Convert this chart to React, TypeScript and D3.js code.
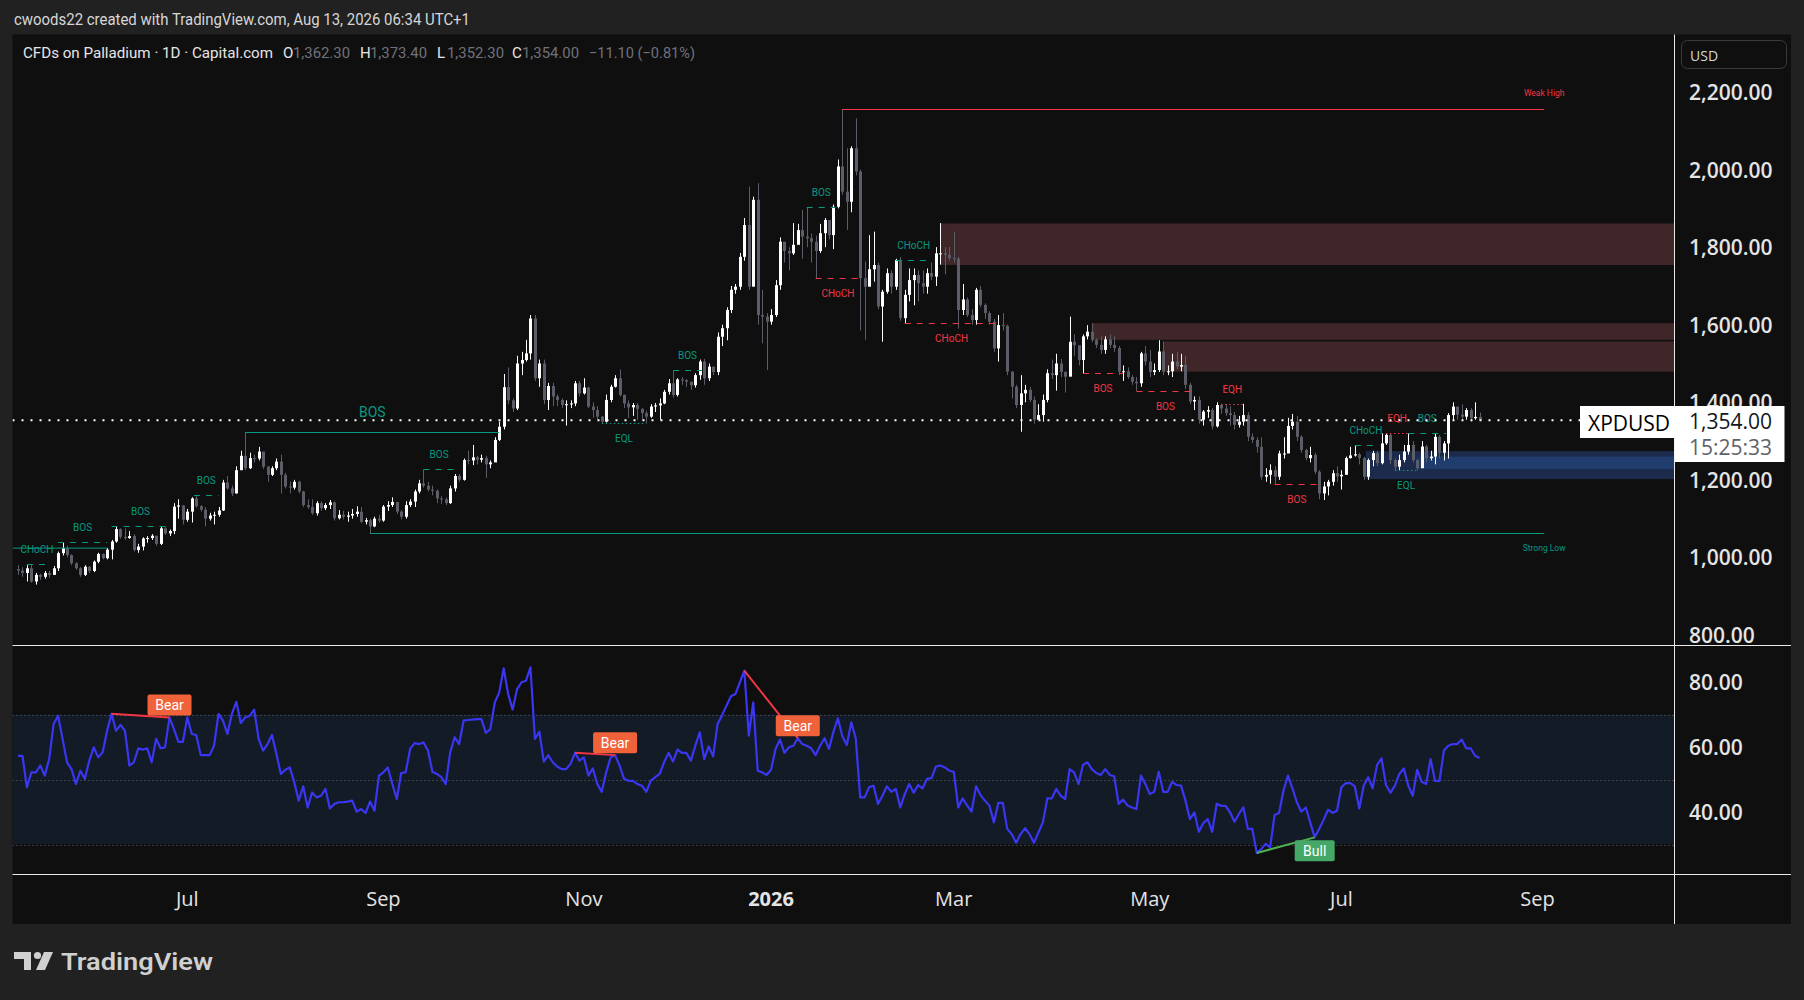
import { useEffect } from 'react';
import * as d3 from 'd3';

const W = 1804;
const H = 1000;

// daily bars of XPDUSD: [high, low, close]; open = previous close
const FIRST_OPEN = 970;
const bars: [number, number, number][] = [
  [980, 955, 966], [975, 950, 960], [980, 938, 972], [980, 935, 938], [960, 930, 955],
  [958, 942, 950], [965, 945, 960], [965, 948, 955], [978, 955, 972], [1015, 965, 1011],
  [1038, 1005, 1024], [1030, 1000, 1006], [1008, 980, 985], [988, 968, 972], [975, 950, 955],
  [980, 952, 976], [978, 960, 965], [992, 962, 989], [1012, 985, 1009], [1010, 995, 998],
  [1024, 995, 1020], [1045, 995, 1041], [1080, 1038, 1073], [1075, 1048, 1053], [1075, 1045, 1050],
  [1068, 1048, 1055], [1060, 1015, 1019], [1035, 1012, 1028], [1052, 1018, 1049], [1055, 1038, 1050],
  [1060, 1045, 1056], [1055, 1030, 1035], [1080, 1032, 1075], [1078, 1058, 1062], [1072, 1055, 1068],
  [1140, 1060, 1131], [1150, 1100, 1134], [1135, 1085, 1097], [1125, 1092, 1118], [1155, 1090, 1152],
  [1160, 1128, 1132], [1135, 1118, 1123], [1130, 1080, 1100], [1115, 1095, 1108], [1118, 1085, 1110],
  [1130, 1105, 1121], [1200, 1120, 1193], [1210, 1175, 1178], [1185, 1158, 1165], [1235, 1165, 1225],
  [1275, 1225, 1262], [1324, 1225, 1230], [1270, 1228, 1256], [1265, 1245, 1255], [1285, 1250, 1273],
  [1270, 1228, 1234], [1235, 1195, 1213], [1235, 1210, 1230], [1255, 1225, 1247], [1265, 1165, 1213],
  [1218, 1178, 1183], [1195, 1165, 1180], [1200, 1175, 1195], [1198, 1165, 1170], [1172, 1130, 1135],
  [1150, 1125, 1130], [1150, 1110, 1114], [1145, 1108, 1140], [1145, 1120, 1127], [1140, 1122, 1135],
  [1148, 1125, 1142], [1145, 1095, 1101], [1122, 1098, 1110], [1120, 1098, 1105], [1118, 1092, 1108],
  [1125, 1100, 1112], [1132, 1105, 1118], [1130, 1088, 1092], [1102, 1085, 1096], [1100, 1062, 1080],
  [1105, 1078, 1100], [1110, 1090, 1095], [1135, 1092, 1131], [1145, 1120, 1135], [1155, 1130, 1143],
  [1140, 1112, 1118], [1122, 1098, 1105], [1145, 1100, 1135], [1150, 1130, 1144], [1175, 1130, 1170],
  [1200, 1165, 1191], [1227, 1180, 1185], [1195, 1170, 1175], [1185, 1160, 1172], [1175, 1140, 1152],
  [1158, 1138, 1150], [1155, 1135, 1140], [1185, 1138, 1178], [1215, 1170, 1210], [1215, 1195, 1200],
  [1255, 1198, 1251], [1275, 1240, 1250], [1290, 1238, 1258], [1262, 1240, 1252], [1265, 1245, 1256],
  [1262, 1205, 1240], [1250, 1230, 1245], [1310, 1250, 1303], [1350, 1300, 1337], [1473, 1330, 1439],
  [1490, 1395, 1405], [1410, 1375, 1384], [1520, 1380, 1500], [1530, 1470, 1509], [1561, 1505, 1526],
  [1625, 1510, 1616], [1625, 1455, 1462], [1510, 1440, 1500], [1510, 1395, 1406], [1450, 1380, 1442],
  [1450, 1390, 1415], [1420, 1390, 1406], [1410, 1385, 1393], [1405, 1340, 1395], [1405, 1385, 1397],
  [1455, 1390, 1449], [1455, 1415, 1423], [1462, 1420, 1438], [1440, 1385, 1389], [1400, 1360, 1380],
  [1390, 1355, 1363], [1365, 1346, 1350], [1420, 1348, 1406], [1445, 1400, 1440], [1470, 1438, 1462],
  [1485, 1415, 1419], [1420, 1385, 1397], [1405, 1360, 1387], [1398, 1365, 1393], [1398, 1355, 1383],
  [1385, 1355, 1372], [1378, 1346, 1363], [1395, 1360, 1389], [1398, 1375, 1392], [1410, 1355, 1397],
  [1432, 1395, 1427], [1460, 1420, 1449], [1483, 1412, 1419], [1462, 1415, 1459], [1465, 1445, 1457],
  [1460, 1440, 1453], [1452, 1432, 1444], [1475, 1438, 1470], [1510, 1458, 1505], [1512, 1445, 1462],
  [1500, 1455, 1492], [1490, 1470, 1478], [1580, 1470, 1569], [1600, 1545, 1591], [1645, 1560, 1638],
  [1700, 1630, 1690], [1705, 1680, 1698], [1785, 1690, 1775], [1875, 1765, 1857], [1956, 1690, 1698],
  [1930, 1740, 1922], [1965, 1600, 1625], [1690, 1552, 1621], [1630, 1483, 1608], [1640, 1600, 1625],
  [1715, 1620, 1702], [1825, 1690, 1814], [1810, 1760, 1790], [1800, 1740, 1784], [1862, 1780, 1806],
  [1860, 1820, 1844], [1896, 1770, 1827], [1903, 1800, 1823], [1835, 1760, 1814], [1830, 1720, 1790],
  [1860, 1785, 1836], [1875, 1800, 1870], [1870, 1820, 1831], [1910, 1795, 1904], [2026, 1900, 2008],
  [2156, 1935, 1943], [2055, 1844, 1917], [2060, 1890, 2055], [2132, 1985, 1995], [2000, 1585, 1720],
  [1763, 1561, 1698], [1831, 1700, 1743], [1840, 1711, 1754], [1760, 1640, 1647], [1690, 1556, 1685],
  [1745, 1680, 1733], [1740, 1680, 1698], [1770, 1690, 1767], [1775, 1610, 1617], [1690, 1604, 1677],
  [1745, 1660, 1715], [1745, 1650, 1728], [1740, 1660, 1707], [1740, 1680, 1698], [1745, 1680, 1733],
  [1760, 1715, 1724], [1800, 1700, 1784], [1862, 1755, 1784], [1800, 1730, 1780], [1800, 1765, 1772],
  [1840, 1760, 1770], [1775, 1590, 1638], [1705, 1625, 1665], [1670, 1620, 1625], [1640, 1600, 1612],
  [1695, 1600, 1690], [1700, 1645, 1651], [1655, 1615, 1630], [1635, 1600, 1608], [1615, 1530, 1539],
  [1625, 1505, 1599], [1630, 1585, 1597], [1600, 1470, 1479], [1480, 1410, 1440], [1445, 1385, 1393],
  [1470, 1324, 1423], [1445, 1400, 1432], [1440, 1400, 1406], [1415, 1345, 1355], [1395, 1355, 1367],
  [1420, 1350, 1406], [1485, 1400, 1475], [1510, 1460, 1470], [1525, 1430, 1500], [1512, 1465, 1478],
  [1480, 1425, 1466], [1621, 1480, 1556], [1575, 1520, 1547], [1545, 1495, 1509], [1575, 1475, 1570],
  [1599, 1562, 1582], [1604, 1555, 1561], [1565, 1540, 1548], [1570, 1525, 1535], [1570, 1525, 1562],
  [1575, 1540, 1548], [1570, 1530, 1540], [1545, 1470, 1479], [1495, 1455, 1480], [1490, 1460, 1465],
  [1470, 1445, 1453], [1465, 1429, 1449], [1530, 1440, 1526], [1545, 1495, 1505], [1535, 1465, 1478],
  [1500, 1470, 1483], [1560, 1478, 1531], [1556, 1470, 1479], [1495, 1470, 1480], [1525, 1465, 1505],
  [1530, 1485, 1492], [1525, 1480, 1496], [1520, 1435, 1445], [1450, 1395, 1402], [1415, 1380, 1406],
  [1415, 1345, 1355], [1380, 1340, 1376], [1390, 1360, 1380], [1385, 1330, 1338], [1400, 1335, 1393],
  [1396, 1370, 1384], [1395, 1365, 1372], [1390, 1340, 1367], [1375, 1330, 1342], [1365, 1335, 1350],
  [1396, 1340, 1367], [1375, 1300, 1311], [1320, 1295, 1303], [1310, 1270, 1285], [1310, 1200, 1208],
  [1230, 1195, 1213], [1240, 1190, 1225], [1235, 1189, 1208], [1275, 1200, 1268], [1310, 1255, 1268],
  [1360, 1305, 1339], [1370, 1330, 1350], [1365, 1300, 1311], [1315, 1270, 1277], [1280, 1250, 1256],
  [1285, 1245, 1264], [1270, 1215, 1221], [1225, 1150, 1165], [1195, 1148, 1183], [1200, 1160, 1195],
  [1225, 1185, 1217], [1235, 1195, 1209], [1225, 1175, 1213], [1260, 1215, 1256], [1285, 1255, 1263],
  [1289, 1260, 1266], [1270, 1240, 1256], [1260, 1200, 1208], [1255, 1200, 1251], [1275, 1235, 1269],
  [1275, 1235, 1243], [1320, 1240, 1294], [1320, 1290, 1316], [1320, 1240, 1251], [1255, 1225, 1234],
  [1265, 1225, 1251], [1290, 1245, 1273], [1320, 1265, 1290], [1300, 1245, 1251], [1255, 1225, 1230],
  [1300, 1235, 1286], [1290, 1245, 1256], [1275, 1250, 1260], [1320, 1240, 1311], [1315, 1255, 1270],
  [1300, 1250, 1294], [1372, 1255, 1367], [1400, 1352, 1389], [1380, 1355, 1368], [1395, 1355, 1363],
  [1385, 1355, 1380], [1385, 1350, 1359], [1400, 1355, 1362.3], [1373.4, 1352.3, 1354],
];

const rsi: number[] = [
  57.3, 57.3, 47.6, 52.2, 52.2, 54.3, 51.2, 56.3, 67.1, 69.6,
  62.5, 55.3, 53.2, 48.6, 52.7, 50.2, 55.8, 59.9, 56.8, 58.4,
  65.0, 70.2, 65.0, 66.8, 65.0, 54.3, 55.3, 59.6, 59.2, 59.6,
  55.3, 62.5, 59.6, 59.9, 69.1, 65.5, 61.6, 61.6, 69.1, 64.0,
  63.7, 57.5, 57.5, 57.5, 60.4, 70.2, 68.1, 64.0, 70.2, 73.9,
  67.4, 69.1, 69.6, 71.5, 62.5, 58.9, 60.9, 63.7, 57.8, 51.7,
  53.0, 53.7, 49.1, 43.5, 47.9, 41.4, 46.0, 44.5, 45.0, 47.1,
  41.1, 42.5, 43.0, 43.0, 43.2, 43.5, 40.1, 40.9, 39.7, 43.2,
  40.4, 51.2, 52.2, 53.7, 48.6, 44.0, 52.0, 52.2, 59.4, 61.2,
  60.9, 61.4, 58.9, 52.4, 51.7, 50.7, 48.6, 58.4, 63.0, 60.9,
  68.1, 68.3, 68.4, 68.6, 68.6, 64.3, 65.5, 73.7, 76.8, 84.2,
  76.3, 71.5, 77.8, 79.9, 80.4, 84.5, 62.5, 64.7, 55.5, 57.5,
  55.3, 54.0, 53.2, 53.2, 54.8, 58.2, 55.8, 56.8, 51.2, 53.4,
  48.6, 46.2, 52.2, 56.8, 57.5, 54.3, 50.2, 49.6, 49.6, 48.6,
  48.1, 46.2, 49.6, 50.7, 51.7, 55.3, 58.2, 55.5, 59.2, 58.2,
  58.2, 55.8, 60.4, 64.5, 56.3, 60.2, 57.1, 67.1, 69.8, 72.7,
  75.6, 76.3, 79.9, 83.5, 63.5, 73.7, 52.7, 52.2, 51.4, 53.0,
  59.4, 62.3, 58.2, 59.9, 60.4, 62.7, 60.9, 60.4, 59.6, 57.5,
  60.4, 62.7, 59.4, 64.7, 68.8, 63.3, 60.6, 67.6, 62.7, 44.5,
  44.5, 47.6, 48.1, 42.5, 45.0, 47.9, 46.2, 47.1, 41.4, 45.5,
  48.6, 45.9, 48.3, 47.3, 50.2, 50.4, 54.0, 54.3, 53.7, 52.7,
  52.4, 41.4, 44.2, 42.0, 40.1, 47.9, 45.2, 43.5, 42.0, 36.8,
  42.8, 42.8, 34.8, 33.2, 30.5, 33.2, 35.0, 33.2, 30.5, 33.7,
  36.8, 44.2, 44.2, 47.1, 45.0, 44.0, 53.2, 52.2, 48.6, 54.5,
  55.3, 53.2, 52.0, 51.4, 53.2, 51.4, 51.0, 42.5, 43.8, 42.0,
  41.4, 40.9, 51.2, 48.6, 45.5, 46.2, 52.4, 46.2, 46.2, 49.3,
  48.3, 48.1, 43.5, 37.8, 39.9, 33.9, 36.6, 37.8, 33.9, 42.5,
  41.9, 41.9, 39.9, 37.0, 39.4, 41.4, 34.8, 34.8, 27.4, 28.6,
  30.2, 29.1, 39.1, 39.7, 46.6, 51.2, 47.3, 43.0, 40.1, 41.4,
  36.8, 32.2, 34.8, 37.6, 40.7, 39.7, 40.4, 47.6, 48.9, 48.9,
  47.9, 41.1, 48.1, 50.7, 47.3, 54.5, 56.5, 48.3, 45.9, 48.1,
  51.7, 53.4, 48.1, 45.0, 53.0, 49.3, 48.6, 56.3, 49.6, 49.6,
  58.9, 60.4, 60.9, 60.9, 62.3, 59.6, 59.6, 57.3, 56.6,
];

const priceTicks = [800, 1000, 1200, 1400, 1600, 1800, 2000, 2200];
const rsiTicks = [40, 60, 80];
const rsiLevels = [70, 50, 30];
const LAST_DATE = new Date(2026, 7, 13);

// smart-money structure breaks: bar range, level, label
type Brk = { a: number; b: number; p: number; text: string; bull: boolean; style: 'dash' | 'dot' | 'solid'; below?: boolean; big?: boolean };
const breaks: Brk[] = [
  { a: 2, b: 6.5, p: 982, text: 'CHoCH', bull: true, style: 'dash' },
  { a: 9, b: 20, p: 1039, text: 'BOS', bull: true, style: 'dash' },
  { a: 21, b: 34, p: 1082, text: 'BOS', bull: true, style: 'dash' },
  { a: 39.5, b: 45, p: 1160, text: 'BOS', bull: true, style: 'dash' },
  { a: 51, b: 108, p: 1324, text: 'BOS', bull: true, style: 'solid', big: true },
  { a: 91, b: 98, p: 1227, text: 'BOS', bull: true, style: 'dash' },
  { a: 131, b: 141, p: 1346, text: 'EQL', bull: true, style: 'dot', below: true },
  { a: 147, b: 153.5, p: 1483, text: 'BOS', bull: true, style: 'dash' },
  { a: 177, b: 183.5, p: 1903, text: 'BOS', bull: true, style: 'dash' },
  { a: 179, b: 189, p: 1720, text: 'CHoCH', bull: false, style: 'dash', below: true },
  { a: 197, b: 205, p: 1768, text: 'CHoCH', bull: true, style: 'dash' },
  { a: 199, b: 220, p: 1604, text: 'CHoCH', bull: false, style: 'dash', below: true },
  { a: 239, b: 248, p: 1476, text: 'BOS', bull: false, style: 'dash', below: true },
  { a: 251, b: 264, p: 1429, text: 'BOS', bull: false, style: 'dash', below: true },
  { a: 270, b: 275, p: 1396, text: 'EQH', bull: false, style: 'dot' },
  { a: 282, b: 292, p: 1189, text: 'BOS', bull: false, style: 'dash', below: true },
  { a: 300, b: 305, p: 1289, text: 'CHoCH', bull: true, style: 'dash' },
  { a: 307, b: 312, p: 1320, text: 'EQH', bull: false, style: 'dot' },
  { a: 312, b: 320.5, p: 1320, text: 'BOS', bull: true, style: 'dash' },
  { a: 309, b: 314, p: 1225, text: 'EQL', bull: true, style: 'dot', below: true },
];

// order blocks: first bar, top, bottom
const zones = [
  { a: 207, top: 1861, bot: 1754, fill: '#3f2729' },
  { a: 241, top: 1604, bot: 1561, fill: '#3f2729' },
  { a: 257, top: 1557, bot: 1479, fill: '#3f2729' },
  { a: 302.5, top: 1274, bot: 1202, fill: '#1c2b4b' },
  { a: 314.5, top: 1260, bot: 1228, fill: '#213d6e' },
];

// RSI divergences: pivot bars
const divergences = [
  { a: 21, b: 34, bull: false },
  { a: 125, b: 134, bull: false },
  { a: 163, b: 175, bull: false },
  { a: 278, b: 291, bull: true },
];

const GREEN = '#089981';
const RED = '#f23645';
const FONT = 'Roboto, "Noto Sans", sans-serif';
const AXIS_FONT = '"Open Sans", "Noto Sans", sans-serif';

const PANE = { left: 12.5, top: 34.5, right: 1791, bottom: 924 };
const AXIS_X = 1674.5;
const MAIN_BOTTOM = 645.5;
const RSI_BOTTOM = 874.5;
const STEP = 4.456;

function isHoliday(d: Date) {
  return (d.getMonth() === 11 && d.getDate() === 25) || (d.getMonth() === 0 && d.getDate() === 1);
}
function isTradingDay(d: Date) {
  const wd = d.getDay();
  return wd !== 0 && wd !== 6 && !isHoliday(d);
}

function buildDates(count: number, extra: number) {
  const out: Date[] = [];
  let d = new Date(LAST_DATE);
  while (out.length < count) {
    if (isTradingDay(d)) out.unshift(new Date(d));
    d = d3.timeDay.offset(d, -1);
  }
  d = d3.timeDay.offset(LAST_DATE, 1);
  while (out.length < count + extra) {
    if (isTradingDay(d)) out.push(new Date(d));
    d = d3.timeDay.offset(d, 1);
  }
  return out;
}

export default function App() {
  useEffect(() => {
    document.body.style.margin = '0';
    document.body.style.background = '#212121';
  }, []);

  const N = bars.length;
  const x = d3.scaleLinear().domain([0, N - 1]).range([18, 18 + STEP * (N - 1)]);
  const y = d3.scaleLinear().domain([800, 2200]).range([635, 92]);
  const yr = d3.scaleLinear().domain([40, 80]).range([812, 682]);

  const dates = buildDates(N, 60);
  const monthTicks: { i: number; label: string; bold: boolean }[] = [];
  dates.forEach((d, i) => {
    if (i === 0) return;
    const m = d.getMonth();
    if (m !== dates[i - 1].getMonth() && m % 2 === 0) {
      const bold = m === 0;
      monthTicks.push({ i, label: bold ? String(d.getFullYear()) : d3.timeFormat('%b')(d), bold });
    }
  });

  const rsiLine = d3
    .line<number>()
    .x((_, i) => x(i))
    .y((v) => yr(v));

  const closeLast = bars[N - 1][2];
  const lastY = y(closeLast);
  const rightEnd = x(342.5);

  const dashFor = (s: Brk['style']) => (s === 'dash' ? '6 6' : s === 'dot' ? '1.5 2.5' : undefined);

  return (
    <svg width={W} height={H} viewBox={`0 0 ${W} ${H}`} style={{ display: 'block', background: '#212121' }}>
      <defs>
        <clipPath id="mainClip">
          <rect x={PANE.left} y={PANE.top} width={AXIS_X - PANE.left} height={MAIN_BOTTOM - PANE.top} />
        </clipPath>
        <clipPath id="rsiClip">
          <rect x={PANE.left} y={MAIN_BOTTOM} width={AXIS_X - PANE.left} height={RSI_BOTTOM - MAIN_BOTTOM} />
        </clipPath>
      </defs>

      {/* header */}
      <text x={14} y={25} fill="#d6d6d6" fontFamily={FONT} fontSize={16} textLength={456} lengthAdjust="spacingAndGlyphs">
        cwoods22 created with TradingView.com, Aug 13, 2026 06:34 UTC+1
      </text>

      <rect x={PANE.left} y={PANE.top} width={PANE.right - PANE.left} height={PANE.bottom - PANE.top} fill="#0f0f0f" />

      {/* order blocks */}
      <g clipPath="url(#mainClip)">
        {zones.map((z, i) => (
          <rect key={i} x={x(z.a)} y={y(z.top)} width={AXIS_X - x(z.a)} height={y(z.bot) - y(z.top)} fill={z.fill} />
        ))}
      </g>

      {/* candles */}
      <g clipPath="url(#mainClip)">
        {bars.map(([h, l, c], i) => {
          const o = i === 0 ? FIRST_OPEN : bars[i - 1][2];
          const up = c >= o;
          const col = up ? '#ffffff' : '#5b5e68';
          const cx = Math.round(x(i));
          const yt = y(Math.max(o, c));
          const yb = y(Math.min(o, c));
          return (
            <g key={i}>
              <line x1={cx + 0.5} x2={cx + 0.5} y1={y(h)} y2={y(l)} stroke={col} strokeWidth={1} />
              <rect x={cx - 1} y={yt} width={3} height={Math.max(1, yb - yt)} fill={col} />
            </g>
          );
        })}
      </g>

      {/* structure */}
      <g clipPath="url(#mainClip)" fontFamily={FONT}>
        <line x1={PANE.left} x2={x(20)} y1={y(1024)} y2={y(1024)} stroke={GREEN} strokeWidth={1} />
        {breaks.map((b, i) => {
          const col = b.bull ? GREEN : RED;
          const yy = Math.round(y(b.p)) + 0.5;
          const ty = b.big ? yy - 21 : b.below ? yy + 15 : yy - 15;
          return (
            <g key={i}>
              <line x1={x(b.a)} x2={x(b.b)} y1={yy} y2={yy} stroke={col} strokeWidth={1} strokeDasharray={dashFor(b.style)} />
              <text
                x={(x(b.a) + x(b.b)) / 2}
                y={ty}
                fill={col}
                fontSize={b.big ? 14 : 10}
                textAnchor="middle"
                dominantBaseline="central"
              >
                {b.text}
              </text>
            </g>
          );
        })}
        <line x1={x(185)} x2={rightEnd} y1={Math.round(y(2156)) + 0.5} y2={Math.round(y(2156)) + 0.5} stroke={RED} strokeWidth={1} />
        <text x={rightEnd} y={y(2156) - 16} fill={RED} fontSize={8.5} textAnchor="middle" dominantBaseline="central">
          Weak High
        </text>
        <line x1={x(79)} x2={rightEnd} y1={Math.round(y(1062)) + 0.5} y2={Math.round(y(1062)) + 0.5} stroke={GREEN} strokeWidth={1} />
        <text x={rightEnd} y={y(1062) + 15} fill={GREEN} fontSize={8.5} textAnchor="middle" dominantBaseline="central">
          Strong Low
        </text>
        <line x1={PANE.left} x2={1580} y1={lastY} y2={lastY} stroke="#ffffff" strokeWidth={2} strokeDasharray="2 7" />
      </g>

      {/* legend */}
      <g fontFamily={FONT} fontSize={15} dominantBaseline="central">
        <text x={23} y={53} fill="#e6e6e6" textLength={250} lengthAdjust="spacingAndGlyphs">CFDs on Palladium · 1D · Capital.com</text>
        {[
          ['O', '1,362.30', 283],
          ['H', '1,373.40', 360],
          ['L', '1,352.30', 437],
          ['C', '1,354.00', 512],
        ].map(([k, v, px]) => (
          <g key={k as string}>
            <text x={px as number} y={53} fill="#e6e6e6">{k}</text>
            <text x={(px as number) + 10} y={53} fill="#6f727b" textLength={57} lengthAdjust="spacingAndGlyphs">{v}</text>
          </g>
        ))}
        <text x={589} y={53} fill="#6f727b" textLength={106} lengthAdjust="spacingAndGlyphs">−11.10 (−0.81%)</text>
      </g>

      {/* RSI pane */}
      <g clipPath="url(#rsiClip)">
        <rect x={PANE.left} y={yr(70)} width={AXIS_X - PANE.left} height={yr(30) - yr(70)} fill="#121b26" />
        {rsiLevels.map((v) => (
          <line key={v} x1={PANE.left} x2={AXIS_X} y1={Math.round(yr(v)) + 0.5} y2={Math.round(yr(v)) + 0.5} stroke="#8a8d96" strokeOpacity={0.7} strokeWidth={1} strokeDasharray="1 3" />
        ))}
        <path d={rsiLine(rsi) ?? ''} fill="none" stroke="#3a36f2" strokeWidth={2.2} strokeLinejoin="round" />
        {divergences.map((dv, i) => {
          const col = dv.bull ? '#4caf50' : RED;
          const bx = x(dv.b);
          const by = yr(rsi[dv.b]);
          const w = dv.bull ? 40 : 44;
          const ly = dv.bull ? by + 3 : by - 23;
          return (
            <g key={i}>
              <line x1={x(dv.a)} y1={yr(rsi[dv.a])} x2={bx} y2={by} stroke={col} strokeWidth={2} />
              <rect x={bx - w / 2} y={ly} width={w} height={21} rx={2} fill={dv.bull ? '#45a866' : '#f0623a'} />
              <text x={bx} y={ly + 11} fill="#ffffff" fontFamily={FONT} fontSize={14} textAnchor="middle" dominantBaseline="central">
                {dv.bull ? 'Bull' : 'Bear'}
              </text>
            </g>
          );
        })}
      </g>

      {/* separators */}
      <line x1={PANE.left} x2={PANE.right} y1={MAIN_BOTTOM} y2={MAIN_BOTTOM} stroke="#e8e8e8" strokeWidth={1} />
      <line x1={PANE.left} x2={PANE.right} y1={RSI_BOTTOM} y2={RSI_BOTTOM} stroke="#e8e8e8" strokeWidth={1} />
      <line x1={AXIS_X} x2={AXIS_X} y1={PANE.top} y2={PANE.bottom} stroke="#e8e8e8" strokeWidth={1} />

      {/* price axis */}
      <rect x={1681.5} y={40.5} width={105} height={28} rx={6} fill="none" stroke="#3a3a3a" />
      <text x={1690} y={55} fill="#d6d6d6" fontFamily={AXIS_FONT} fontSize={14} dominantBaseline="central">USD</text>
      <g fontFamily={AXIS_FONT} fontSize={21} fontWeight={600} fill="#e4e4e4" dominantBaseline="central">
        {priceTicks.map((p) => (
          <text key={p} x={1689} y={y(p)}>
            {d3.format(',.2f')(p)}
          </text>
        ))}
        {rsiTicks.map((v) => (
          <text key={v} x={1689} y={yr(v)}>
            {d3.format('.2f')(v)}
          </text>
        ))}
      </g>

      {/* last price tags */}
      <rect x={1580} y={406} width={95} height={32} fill="#ffffff" />
      <text x={1588} y={422.5} fill="#000000" fontFamily={AXIS_FONT} fontSize={21} dominantBaseline="central">XPDUSD</text>
      <rect x={AXIS_X} y={406} width={110} height={56} fill="#ffffff" />
      <text x={1689} y={421} fill="#131722" fontFamily={AXIS_FONT} fontSize={21} dominantBaseline="central">
        {d3.format(',.2f')(closeLast)}
      </text>
      <text x={1689} y={447} fill="#5f626b" fontFamily={AXIS_FONT} fontSize={21} dominantBaseline="central">15:25:33</text>

      {/* time axis */}
      <g fontFamily={AXIS_FONT} fontSize={20} fill="#e4e4e4" textAnchor="middle" dominantBaseline="central">
        {monthTicks
          .filter((t) => x(t.i) > PANE.left + 20 && x(t.i) < AXIS_X - 30)
          .map((t) => (
            <text key={t.i} x={x(t.i)} y={898} fontWeight={t.bold ? 700 : 400}>
              {t.label}
            </text>
          ))}
      </g>

      {/* TradingView logo */}
      <g fill="#d0d0d0">
        <path d="M14 952 H31 V970 H24 V959 H14 Z" />
        <circle cx={37.5} cy={955.5} r={3.6} />
        <path d="M44 952 H53 L45 970 H36 Z" />
        <text x={61} y={970} fontFamily={FONT} fontSize={24} fontWeight={600} textLength={152} lengthAdjust="spacingAndGlyphs">
          TradingView
        </text>
      </g>
    </svg>
  );
}
